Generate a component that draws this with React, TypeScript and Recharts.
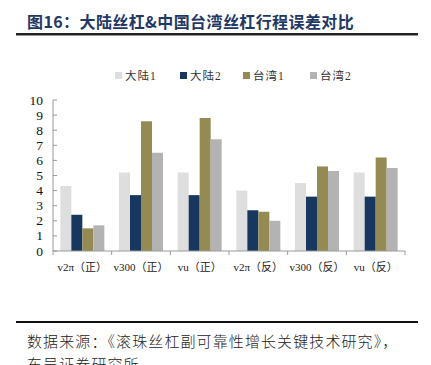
import React from 'react';
import { BarChart, Bar, XAxis, YAxis } from 'recharts';

const categories = ['v2π（正）', 'v300（正）', 'vu（正）', 'v2π（反）', 'v300（反）', 'vu（反）'];
const mainland1 = [4.3, 5.2, 5.2, 4.0, 4.5, 5.2];
const mainland2 = [2.4, 3.7, 3.7, 2.7, 3.6, 3.6];
const taiwan1 = [1.5, 8.6, 8.8, 2.6, 5.6, 6.2];
const taiwan2 = [1.7, 6.5, 7.4, 2.0, 5.3, 5.5];
const yTicks = [0, 1, 2, 3, 4, 5, 6, 7, 8, 9, 10];

const seriesNames = ['大陆1', '大陆2', '台湾1', '台湾2'];
const seriesKeys = ['m1', 'm2', 't1', 't2'];
const seriesColors = ['#dedede', '#17375e', '#948a54', '#b3b3b3'];

const data = categories.map((c, i) => ({
  name: c,
  m1: mainland1[i],
  m2: mainland2[i],
  t1: taiwan1[i],
  t2: taiwan2[i],
}));

const W = 431;
const H = 290;
const M = { top: 100, right: 26, bottom: 9, left: 13 };
const YW = 40;
const plotW = W - M.left - M.right - YW;
const step = plotW / categories.length;

const serif = "'Liberation Serif', 'Times New Roman', 'Noto Sans CJK SC', serif";
const axisColor = '#9a9a9a';

const XTick = (props: any) => {
  const { x, y, payload, index } = props;
  return (
    <g>
      <line x1={x - step / 2} x2={x - step / 2} y1={y} y2={y + 4} stroke={axisColor} />
      {index === categories.length - 1 && (
        <line x1={x + step / 2} x2={x + step / 2} y1={y} y2={y + 4} stroke={axisColor} />
      )}
      <text x={x} y={y + 16} textAnchor="middle" dominantBaseline="central" fontSize={11} fill="#222" fontFamily={serif}>
        {payload.value}
      </text>
    </g>
  );
};

const YTick = (props: any) => {
  const { x, y, payload } = props;
  return (
    <g>
      <line x1={x} x2={x + 4} y1={y} y2={y} stroke={axisColor} />
      <text x={x - 10} y={y} textAnchor="end" dominantBaseline="central" fontSize={13.5} fill="#111" fontFamily={serif}>
        {payload.value}
      </text>
    </g>
  );
};

const legendXs = [115, 180, 243, 310];

export default function App() {
  return (
    <div style={{ position: 'absolute', left: 0, top: 0, width: W, height: 365, background: '#fff', overflow: 'hidden' }}>
      <div
        style={{
          position: 'absolute',
          left: 27,
          top: 9,
          fontSize: 16,
          fontWeight: 700,
          color: '#1f3864',
          fontFamily: "'Noto Sans CJK SC', sans-serif",
          whiteSpace: 'nowrap',
          letterSpacing: 0.4,
        }}
      >
        图16：大陆丝杠&中国台湾丝杠行程误差对比
      </div>
      <div style={{ position: 'absolute', left: 16, top: 33, width: 402, height: 2, background: '#222' }} />
      <div style={{ position: 'absolute', left: 16, top: 35, width: 402, height: 1, background: '#999' }} />
      {seriesNames.map((n, i) => (
        <div
          key={n}
          style={{ position: 'absolute', left: legendXs[i], top: 67, display: 'flex', alignItems: 'center', height: 16 }}
        >
          <div style={{ width: 7, height: 7, background: seriesColors[i], marginRight: 3 }} />
          <span style={{ fontSize: 11.5, color: '#333', fontFamily: serif, letterSpacing: 1 }}>{n}</span>
        </div>
      ))}
      <div style={{ position: 'absolute', left: 0, top: 0 }}>
        <BarChart width={W} height={H} data={data} margin={M} barGap={0} barCategoryGap="12.5%">
          <XAxis
            dataKey="name"
            tick={<XTick />}
            tickLine={false}
            tickSize={0}
            tickMargin={0}
            height={30}
            stroke={axisColor}
            interval={0}
          />
          <YAxis
            domain={[0, 10]}
            ticks={yTicks}
            tick={<YTick />}
            tickLine={false}
            tickSize={0}
            tickMargin={0}
            width={YW}
            stroke={axisColor}
            interval={0}
          />
          {seriesKeys.map((k, i) => (
            <Bar key={k} dataKey={k} name={seriesNames[i]} fill={seriesColors[i]} isAnimationActive={false} />
          ))}
        </BarChart>
      </div>
      <div style={{ position: 'absolute', left: 16, top: 321, width: 402, height: 2, background: '#111' }} />
      <div
        style={{
          position: 'absolute',
          left: 27,
          top: 329,
          fontSize: 15,
          lineHeight: '23px',
          color: '#222',
          fontFamily: "'Noto Sans CJK SC', sans-serif",
          fontWeight: 300,
          whiteSpace: 'nowrap',
          letterSpacing: 1.1,
        }}
      >
        数据来源：《滚珠丝杠副可靠性增长关键技术研究》，
        <br />
        东吴证券研究所
      </div>
    </div>
  );
}
